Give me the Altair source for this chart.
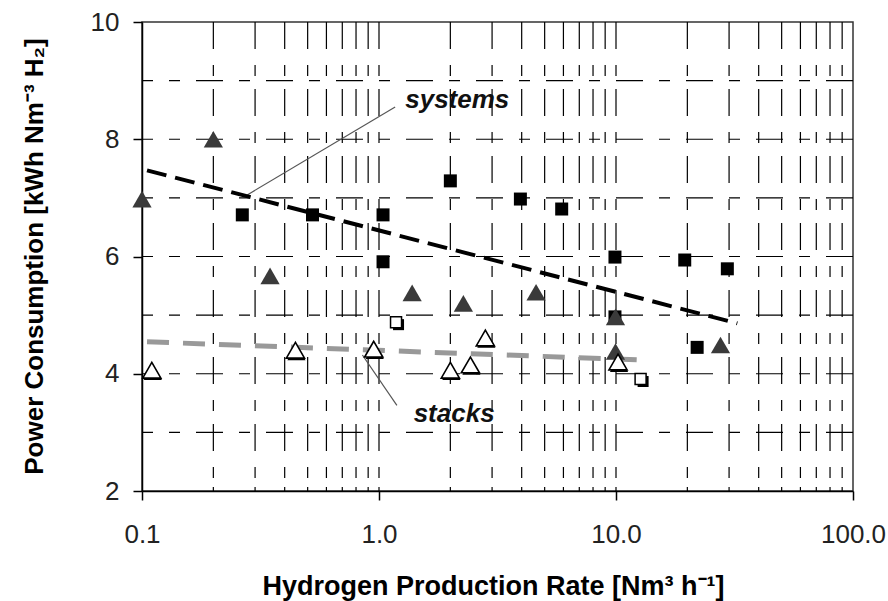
import altair as alt
import pandas as pd

# ---------------- data ----------------
# systems (filled squares)
sys_sq_x = [0.265, 0.524, 1.04, 1.04, 2.0, 3.95, 5.9, 9.9, 19.5, 29.5, 22.0, 9.9]
sys_sq_y = [6.71, 6.71, 6.71, 5.91, 7.29, 6.98, 6.81, 5.99, 5.94, 5.79, 4.45, 4.97]
# systems (filled triangles)
sys_tri_x = [0.1, 0.2, 0.347, 1.38, 2.27, 4.6, 9.95, 9.95, 27.6]
sys_tri_y = [6.98, 8.0, 5.67, 5.38, 5.2, 5.39, 4.97, 4.38, 4.49]
# stacks (open squares)
stk_sq_x = [1.18, 12.7]
stk_sq_y = [4.88, 3.91]
# stacks (open triangles)
stk_tri_x = [0.11, 0.444, 0.95, 2.0, 2.43, 2.81, 10.2]
stk_tri_y = [4.06, 4.4, 4.42, 4.06, 4.15, 4.61, 4.2]

# trend lines
sys_fit_x = [0.105, 32.5]
sys_fit_y = [7.47, 4.86]
stk_fit_x = [0.105, 13.7]
stk_fit_y = [4.545, 4.23]

# leader lines for labels
sys_lead_x = [0.278, 1.17]
sys_lead_y = [7.05, 8.55]
stk_lead_x = [0.851, 1.19]
stk_lead_y = [4.32, 3.46]

label_text = ["systems", "stacks"]
label_x = [1.29, 1.40]
label_y = [8.53, 3.17]

# gridlines / ticks
grid_x = [0.2, 0.3, 0.4, 0.5, 0.6, 0.7, 0.8, 0.9, 1, 2, 3, 4, 5, 6, 7, 8, 9, 10,
          20, 30, 40, 50, 60, 70, 80, 90]
grid_y = [3, 4, 5, 6, 7, 8, 9]
x_tick_values = [0.1, 1, 10, 100]
y_tick_values = [2, 4, 6, 8, 10]

W, H = 711, 469
FONT = "Liberation Sans"

xscale = alt.Scale(type="log", domain=[0.1, 100], nice=False)
yscale = alt.Scale(domain=[2, 10], nice=False, zero=False)

xaxis = alt.Axis(
    values=x_tick_values, labelExpr="format(datum.value, '.1f')", grid=False,
    tickSize=9, tickColor="black", tickWidth=1.5, domainColor="black", domainWidth=1.5,
    labelFont=FONT, labelFontSize=26, labelColor="#222", labelPadding=42,
    labelBaseline="alphabetic", labelFlush=False,
    title="Hydrogen Production Rate [Nm³ h⁻¹]", titleFont=FONT, titleFontSize=27,
    titleFontWeight="bold", titleColor="black", titleX=351, titleY=103,
    titleBaseline="alphabetic", titleAlign="center",
)
yaxis = alt.Axis(
    values=y_tick_values, grid=False,
    tickSize=9, tickColor="black", tickWidth=1.5, domainColor="black", domainWidth=1.5,
    labelFont=FONT, labelFontSize=26, labelColor="#222", labelPadding=14,
    labelFlush=False,
    title="Power Consumption [kWh Nm⁻³ H₂]", titleFont=FONT, titleFontSize=26,
    titleFontWeight="bold", titleColor="black", titleX=-100, titleY=234,
    titleBaseline="alphabetic", titleAlign="center", titleAngle=270,
)

X = alt.X("x:Q", scale=xscale, axis=xaxis)
Y = alt.Y("y:Q", scale=yscale, axis=yaxis)


def df(xs, ys):
    return pd.DataFrame({"x": xs, "y": ys})


vgrid = alt.Chart(pd.DataFrame({"x": grid_x})).mark_rule(
    color="black", strokeWidth=1.2, strokeDash=[27, 16, 11, 13]
).encode(x=X)

hgrid = alt.Chart(pd.DataFrame({"y": grid_y})).mark_rule(
    color="black", strokeWidth=1.2, strokeDash=[27, 16, 11, 16]
).encode(y=Y)

minor = alt.Chart(pd.DataFrame({"x": grid_x})).mark_rule(
    color="black", strokeWidth=1.2
).encode(x=X, y=alt.value(H - 4), y2=alt.value(H))

sys_fit = alt.Chart(df(sys_fit_x, sys_fit_y)).mark_line(
    color="black", strokeWidth=4, strokeDash=[20, 9]
).encode(x=X, y=Y)

stk_fit = alt.Chart(df(stk_fit_x, stk_fit_y)).mark_line(
    color="#999999", strokeWidth=5, strokeDash=[22, 14]
).encode(x=X, y=Y)

sys_lead = alt.Chart(df(sys_lead_x, sys_lead_y)).mark_line(
    color="#555555", strokeWidth=1.2
).encode(x=X, y=Y)

stk_lead = alt.Chart(df(stk_lead_x, stk_lead_y)).mark_line(
    color="#555555", strokeWidth=1.2
).encode(x=X, y=Y)

sys_sq = alt.Chart(df(sys_sq_x, sys_sq_y)).mark_point(
    shape="square", filled=True, color="black", size=169, opacity=1
).encode(x=X, y=Y)

sys_tri = alt.Chart(df(sys_tri_x, sys_tri_y)).mark_point(
    shape="triangle-up", filled=True, color="#3a3a3a", size=370, opacity=1
).encode(x=X, y=Y)

stk_sq_shadow = alt.Chart(df(stk_sq_x, stk_sq_y)).mark_point(
    shape="square", filled=True, color="black", size=121, opacity=1,
    xOffset=2.5, yOffset=2.5
).encode(x=X, y=Y)

stk_sq = alt.Chart(df(stk_sq_x, stk_sq_y)).mark_point(
    shape="square", filled=True, fill="white", stroke="black", strokeWidth=1.5,
    size=121, opacity=1
).encode(x=X, y=Y)

stk_tri_shadow = alt.Chart(df(stk_tri_x, stk_tri_y)).mark_point(
    shape="triangle-up", filled=True, color="black", size=330, opacity=1,
    xOffset=1, yOffset=2
).encode(x=X, y=Y)

stk_tri = alt.Chart(df(stk_tri_x, stk_tri_y)).mark_point(
    shape="triangle-up", filled=True, fill="white", stroke="black", strokeWidth=1.6,
    size=330, opacity=1
).encode(x=X, y=Y)

labels = alt.Chart(pd.DataFrame({"x": label_x, "y": label_y, "t": label_text})).mark_text(
    align="left", baseline="alphabetic", font=FONT, fontSize=26,
    fontStyle="italic", fontWeight="bold", color="#111"
).encode(x=X, y=Y, text="t:N")

chart = alt.layer(
    vgrid, hgrid, minor, sys_lead, stk_lead, sys_fit, stk_fit,
    sys_sq, sys_tri, stk_sq_shadow, stk_sq, stk_tri_shadow, stk_tri, labels
).properties(
    width=W, height=H,
    autosize=alt.AutoSizeParams(type="none"),
    padding={"left": 142, "top": 22, "right": 35, "bottom": 110},
    background="white",
).configure_view(stroke="#333333", strokeWidth=1.5)

chart.save("out.html", embed_options={"renderer": "svg", "actions": False})
